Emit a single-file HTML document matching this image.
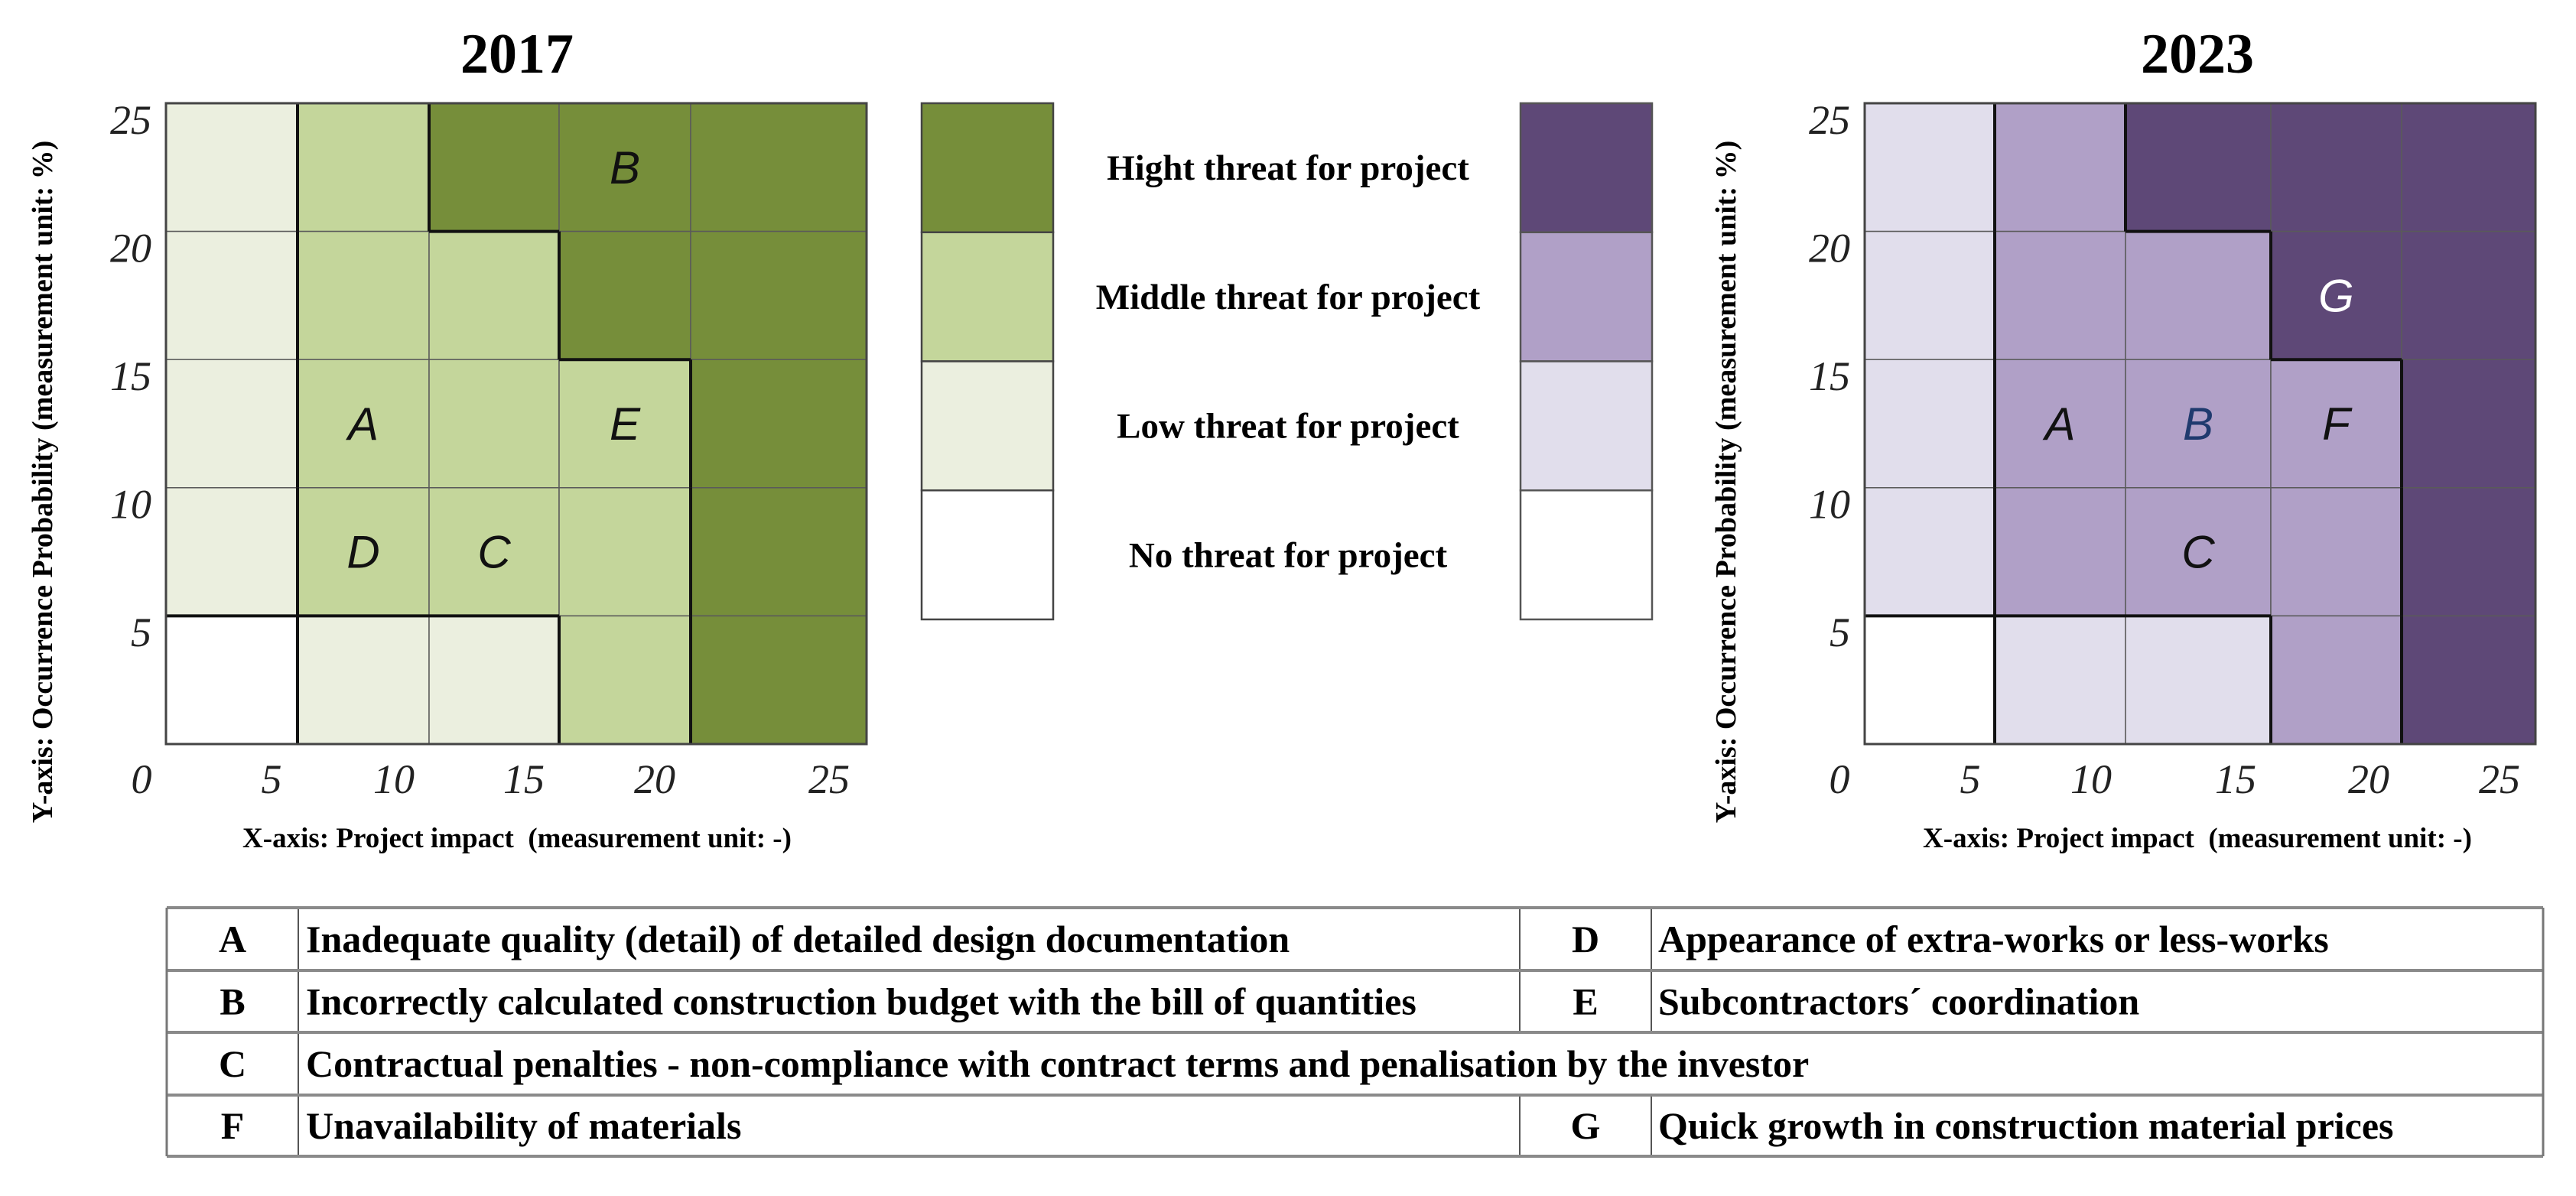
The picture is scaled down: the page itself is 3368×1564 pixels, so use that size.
<!DOCTYPE html>
<html><head><meta charset="utf-8"><style>
html,body{margin:0;padding:0;background:#fff;}
svg{display:block;}
</style></head><body>
<svg id="root" width="3368" height="1564" viewBox="0 0 3368 1564" xmlns="http://www.w3.org/2000/svg"></svg>
<script>
// ---- data ----
const tickLabels = ["0","5","10","15","20","25"];
const yTickLabels = ["25","20","15","10","5"];
// threat levels: 0 none, 1 low, 2 middle, 3 high ; rows top(25) to bottom(5), cols impact 5..25
const levels2017 = [
 [1,2,3,3,3],
 [1,2,2,3,3],
 [1,2,2,2,3],
 [1,2,2,2,3],
 [0,1,1,2,3]
];
const levels2023 = [
 [1,2,3,3,3],
 [1,2,2,3,3],
 [1,2,2,2,3],
 [1,2,2,2,3],
 [0,1,1,2,3]
];
const risks2017Names = ["B","A","E","D","C"];
const risks2017Col = [3,1,3,1,2];
const risks2017Row = [0,2,2,3,3];
const risks2023Names = ["G","A","B","F","C"];
const risks2023Col = [3,1,2,3,2];
const risks2023Row = [1,2,2,2,3];
const legendLabels = ["Hight threat for project","Middle threat for project","Low threat for project","No threat for project"];
const tableRows = [
 ["A","Inadequate quality (detail) of detailed design documentation","D","Appearance of extra-works or less-works"],
 ["B","Incorrectly calculated construction budget with the bill of quantities","E","Subcontractors\u00b4 coordination"],
 ["C","Contractual penalties - non-compliance with contract terms and penalisation by the investor"],
 ["F","Unavailability of materials","G","Quick growth in construction material prices"]
];
// ---- drawing ----
const NS="http://www.w3.org/2000/svg";
const root=document.getElementById('root');
function mk(tag,attrs,parent){const e=document.createElementNS(NS,tag);for(const k in attrs)e.setAttribute(k,attrs[k]);(parent||root).appendChild(e);return e;}
const SERIF='"Liberation Serif", serif';
const SANS='"Liberation Sans", sans-serif';
const green=["#ffffff","#ebefdf","#c4d69b","#768e3a"];
const purple=["#ffffff","#e1deec","#b0a0c7","#5e4877"];

function drawChart(cfg){
  const g=mk('g',{});
  
  
  const xe=cfg.xEdges, top=135, bottom=973, nR=cfg.levels.length;
  const yEdge=i=>top+(bottom-top)*i/nR;
  const xMid=c=>(xe[c]+xe[c+1])/2, yMid=r=>(yEdge(r)+yEdge(r+1))/2;
  cfg.levels.forEach((row,r)=>row.forEach((lv,c)=>{
    const rc=mk('rect',{x:xe[c],y:yEdge(r),width:xe[c+1]-xe[c],height:yEdge(r+1)-yEdge(r),fill:cfg.colors[lv],stroke:"#5a5a5a","stroke-width":1.5},g);
    
    
  }));
  cfg.levels.forEach((row,r)=>row.forEach((lv,c)=>{
    if(c+1<row.length && row[c+1]!==lv){const l=mk('line',{x1:xe[c+1],x2:xe[c+1],y1:yEdge(r),y2:yEdge(r+1),stroke:"#111","stroke-width":4},g);}
    if(r+1<nR && cfg.levels[r+1][c]!==lv){const l=mk('line',{x1:xe[c],x2:xe[c+1],y1:yEdge(r+1),y2:yEdge(r+1),stroke:"#111","stroke-width":4},g);}
  }));
  const ob=mk('rect',{x:xe[0],y:top,width:xe[xe.length-1]-xe[0],height:bottom-top,fill:"none",stroke:"#444","stroke-width":3},g);
  
  
  cfg.names.forEach((n,i)=>{
    const t=mk('text',{x:xMid(cfg.cols[i]),y:yMid(cfg.rows[i])+21,'text-anchor':'middle','font-family':SANS,'font-style':'italic','font-size':60,fill:cfg.letterFill(n)},g);
    t.textContent=n;
    
    
  });
  const ti=mk('text',{x:cfg.titleX,y:95,'text-anchor':'middle','font-family':SERIF,'font-weight':'bold','font-size':74,fill:'#000'},g);
  ti.textContent=cfg.title;
  
  
  yTickLabels.forEach((s,i)=>{
    const t=mk('text',{x:cfg.yTickX,y:top+40+i*167.5,'text-anchor':'end','font-family':SERIF,'font-style':'italic','font-size':54,fill:'#222'},g);
    t.textContent=s;
    
    
  });
  tickLabels.forEach((s,i)=>{
    const t=mk('text',{x:cfg.xTicks[i],y:1037,'text-anchor':'middle','font-family':SERIF,'font-style':'italic','font-size':54,fill:'#222'},g);
    t.textContent=s;
    
    
  });
  const xt=mk('text',{x:cfg.titleX,y:1108,'text-anchor':'middle','font-family':SERIF,'font-weight':'bold','font-size':37,fill:'#000'},g);
  xt.textContent="X-axis: Project impact\u00a0 (measurement unit: -)";
  
  
  const yt=mk('text',{x:0,y:0,'text-anchor':'middle','font-family':SERIF,'font-weight':'bold','font-size':38,fill:'#000',transform:`translate(${cfg.yTitleX},630) rotate(-90)`},g);
  yt.textContent="Y-axis: Occurrence Probability (measurement unit: %)";
  
  
}

drawChart({name:'matrix-2017',title:'2017',levels:levels2017,colors:green,xEdges:[217,389,561,731,903,1133],
  names:risks2017Names,cols:risks2017Col,rows:risks2017Row,letterFill:()=>'#111',
  titleX:676,yTickX:198,xTicks:[185,355,515,685,856,1084],yTitleX:68});
drawChart({name:'matrix-2023',title:'2023',levels:levels2023,colors:purple,xEdges:[2438,2608,2779,2969,3140,3315],
  names:risks2023Names,cols:risks2023Col,rows:risks2023Row,letterFill:n=>n==='G'?'#fff':(n==='B'?'#1f3a6e':'#111'),
  titleX:2873,yTickX:2419,xTicks:[2405,2576,2734,2923,3097,3268],yTitleX:2269});

const legTop=135, legH=168.75;
legendLabels.forEach((s,i)=>{
  const lv=3-i;
  const a=mk('rect',{x:1205,y:legTop+i*legH,width:172,height:legH,fill:green[lv],stroke:"#444","stroke-width":2.5});
  
  
  const b=mk('rect',{x:1988,y:legTop+i*legH,width:172,height:legH,fill:purple[lv],stroke:"#555","stroke-width":2.5});
  
  
  const t=mk('text',{x:1684,y:legTop+i*legH+100,'text-anchor':'middle','font-family':SERIF,'font-weight':'bold','font-size':47,fill:'#000'});
  t.textContent=s;
  
  
});

const tL=218,tR=3325,rowE=[1187,1269,1350,1432,1512];
const colL=390,colD=1987,colD2=2159;
tableRows.forEach((row,r)=>{
  const y0=rowE[r],y1=rowE[r+1],ty=(y0+y1)/2+17;
  const v1=mk('line',{x1:colL,x2:colL,y1:y0,y2:y1,stroke:"#555","stroke-width":2});
  
  
  if(row.length>2){
    [colD,colD2].forEach(x=>{const v=mk('line',{x1:x,x2:x,y1:y0,y2:y1,stroke:"#555","stroke-width":2});});
  }
  const k=mk('text',{x:304,y:ty,'text-anchor':'middle','font-family':SERIF,'font-weight':'bold','font-size':50,fill:'#000'});
  k.textContent=row[0];
  
  
  const d=mk('text',{x:400,y:ty,'font-family':SERIF,'font-weight':'bold','font-size':50,fill:'#000'});
  d.textContent=row[1];
  
  
  if(row.length>2){
    const k2=mk('text',{x:2073,y:ty,'text-anchor':'middle','font-family':SERIF,'font-weight':'bold','font-size':50,fill:'#000'});
    k2.textContent=row[2];
    
    
    const d2=mk('text',{x:2168,y:ty,'font-family':SERIF,'font-weight':'bold','font-size':50,fill:'#000'});
    d2.textContent=row[3];
    
    
  }
});
rowE.forEach(y=>{const h=mk('line',{x1:tL,x2:tR,y1:y,y2:y,stroke:"#8a8a8a","stroke-width":4});});
[tL,tR].forEach(x=>{const v=mk('line',{x1:x,x2:x,y1:rowE[0],y2:rowE[4],stroke:"#777","stroke-width":3});});
</script>
</body></html>
